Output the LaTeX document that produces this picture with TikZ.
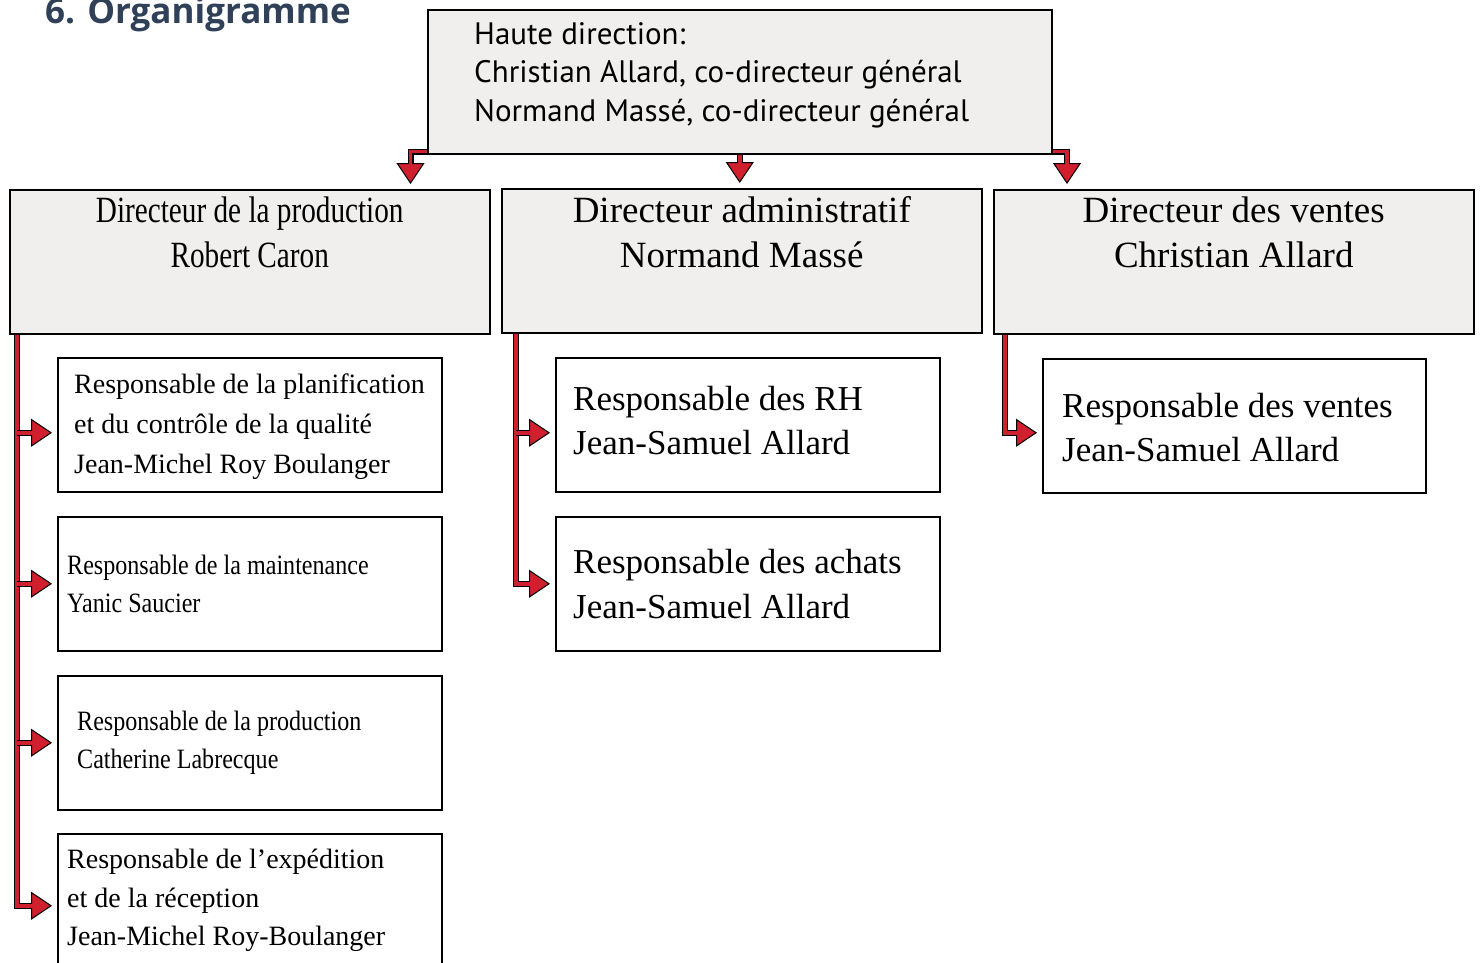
\documentclass[tikz,border=0pt]{standalone}
\usepackage{fontspec}
\setmainfont{Liberation Serif}
\newfontfamily\headfont{PT Sans}
\newfontfamily\titlefont{Open Sans}
\newfontfamily\narrowA[FakeStretch=0.79]{Liberation Serif}
\newfontfamily\narrowB[FakeStretch=0.86]{Liberation Serif}
\usetikzlibrary{arrows.meta,calc}

\definecolor{boxgray}{RGB}{240,239,238}
\definecolor{linkred}{RGB}{208,32,46}
\definecolor{titleblue}{RGB}{47,64,88}

\tikzset{
  dirbox/.style={draw, line width=1.5pt, fill=boxgray, minimum width=480pt, minimum height=144pt, inner sep=0pt, anchor=north west},
  subbox/.style={draw, line width=1.5pt, fill=white, minimum width=384pt, minimum height=134pt, inner sep=0pt, anchor=north west},
  boxtext/.style={anchor=west, inner sep=0pt, align=left},
  link/.style={draw=black, line width=6pt, shorten >=5pt, -{Triangle[length=21pt, width=28pt, line width=1pt, fill=linkred]},
    postaction={draw=linkred, line width=3.6pt, -, shorten >=24pt}},
}

\begin{document}
\begin{tikzpicture}[x=1pt,y=-1pt]
  \useasboundingbox (0,0) rectangle (1480,962);
  % title
  \node[anchor=base west, inner sep=0pt, text=titleblue, font=\titlefont\bfseries\fontsize{35}{38}\selectfont] (title) at (45,23) {6. Organigramme};

  % top management
  \node[dirbox, minimum width=624pt] (top) at (427,9) {};
  \node[anchor=north west, inner sep=0pt, align=left, font=\headfont\fontsize{31}{38.5}\selectfont] (toptxt) at (474,22) {Haute direction:\\Christian Allard, co-directeur général\\Normand Massé, co-directeur général};

  % directors
  \node[dirbox] (dprod) at (9,189) {};
  \node[anchor=north, inner sep=0pt, align=center, font=\narrowA\fontsize{37}{45}\selectfont] (dprodtxt) at ([yshift=-8pt]dprod.north) {Directeur de la production\\Robert Caron};
  \node[dirbox] (dadm) at (501,188) {};
  \node[anchor=north, inner sep=0pt, align=center, font=\fontsize{37}{45}\selectfont] (dadmtxt) at ([yshift=-8pt]dadm.north) {Directeur administratif\\Normand Massé};
  \node[dirbox] (dvent) at (993,189) {};
  \node[anchor=north, inner sep=0pt, align=center, font=\fontsize{37}{45}\selectfont] (dventtxt) at ([yshift=-8pt]dvent.north) {Directeur des ventes\\Christian Allard};

  % production
  \node[subbox] (rplan) at (57,357) {};
  \node[boxtext, font=\fontsize{28}{40}\selectfont] (rplantxt) at ([xshift=17pt,yshift=-2pt]rplan.west) {Responsable de la planification\\et du contrôle de la qualité\\Jean-Michel Roy Boulanger};
  \node[subbox] (rmaint) at (57,516) {};
  \node[boxtext, font=\narrowB\fontsize{28}{38}\selectfont] (rmainttxt) at ([xshift=10pt]rmaint.west) {Responsable de la maintenance\\Yanic Saucier};
  \node[subbox] (rprod) at (57,675) {};
  \node[boxtext, font=\narrowB\fontsize{28}{38}\selectfont] (rprodtxt) at ([xshift=20pt]rprod.west) {Responsable de la production\\Catherine Labrecque};
  \node[subbox] (rexp) at (57,833) {};
  \node[boxtext, font=\fontsize{28}{38.5}\selectfont] (rexptxt) at ([xshift=10pt]rexp.west) {Responsable de l’expédition\\et de la réception\\Jean-Michel Roy-Boulanger};

  % administration
  \node[subbox] (rrh) at (555,357) {};
  \node[boxtext, font=\fontsize{35}{44}\selectfont] (rrhtxt) at ([xshift=18pt,yshift=4pt]rrh.west) {Responsable des RH\\Jean-Samuel Allard};
  \node[subbox] (rach) at (555,516) {};
  \node[boxtext, font=\fontsize{35}{45}\selectfont] (rachtxt) at ([xshift=18pt]rach.west) {Responsable des achats\\Jean-Samuel Allard};

  % sales
  \node[subbox, minimum width=383pt] (rvent) at (1042,358) {};
  \node[boxtext, font=\fontsize{35}{44}\selectfont] (rventtxt) at ([xshift=20pt,yshift=-2pt]rvent.west) {Responsable des ventes\\Jean-Samuel Allard};

  % links from top management
  \draw[link] ([yshift=3pt]top.south west) -| ([xshift=-80pt]dprod.north east);
  \draw[link] (top.south) -- (top.south |- dadm.north);
  \draw[link] ([yshift=3pt]top.south east) -| ([xshift=74pt]dvent.north west);

  % links to managers
  \coordinate (c1) at ([xshift=8pt]dprod.south west);
  \coordinate (c2) at ([xshift=15pt]dadm.south west);
  \coordinate (c3) at ([xshift=12pt]dvent.south west);
  \draw[link] (c1) |- ([yshift=-5pt]rexp.west);
  \draw[link] (c1 |- rplan.west) ++(0,8) -- ([yshift=-8pt]rplan.west);
  \draw[link] (c1 |- rmaint.west) -- (rmaint.west);
  \draw[link] (c1 |- rprod.west) -- (rprod.west);
  \draw[link] (c2) |- (rach.west);
  \draw[link] (c2 |- rrh.west) ++(0,8) -- ([yshift=-8pt]rrh.west);
  \draw[link] (c3) |- ([yshift=-7pt]rvent.west);
\end{tikzpicture}
\end{document}
